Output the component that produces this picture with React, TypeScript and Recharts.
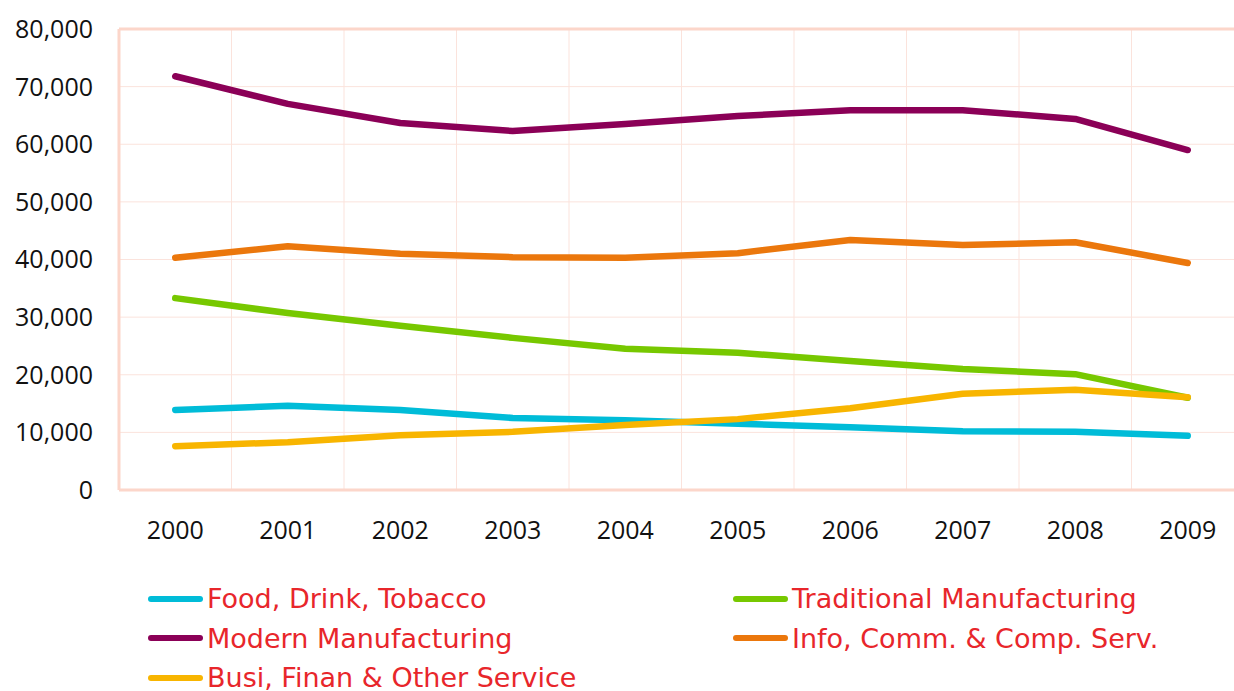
import React from "react";
import { LineChart, Line, XAxis, YAxis, CartesianGrid, Legend, ReferenceLine } from "recharts";

const years = ["2000", "2001", "2002", "2003", "2004", "2005", "2006", "2007", "2008", "2009"];
const food = [13900, 14600, 13900, 12500, 12100, 11500, 10900, 10200, 10100, 9400];
const traditional = [33300, 30700, 28500, 26400, 24500, 23800, 22400, 21000, 20100, 16000];
const modern = [71800, 67000, 63700, 62300, 63500, 64900, 65900, 65900, 64400, 59000];
const info = [40300, 42300, 41000, 40400, 40300, 41100, 43400, 42500, 43000, 39400];
const busi = [7600, 8300, 9500, 10100, 11300, 12300, 14200, 16700, 17400, 16100];
const yTicks = [0, 10000, 20000, 30000, 40000, 50000, 60000, 70000, 80000];

const series = [
  { key: "food", name: "Food, Drink, Tobacco", color: "#00BCD8", values: food },
  { key: "traditional", name: "Traditional Manufacturing", color: "#77C800", values: traditional },
  { key: "modern", name: "Modern Manufacturing", color: "#8B0057", values: modern },
  { key: "info", name: "Info, Comm. & Comp. Serv.", color: "#EB770C", values: info },
  { key: "busi", name: "Busi, Finan & Other Service", color: "#F8B500", values: busi },
];

const data = years.map((y, i) => {
  const row: Record<string, string | number> = { year: y };
  series.forEach((s) => (row[s.key] = s.values[i]));
  return row;
});

const AXIS = "#FCD6CA";
const GRID = "#FBE3DC";

const LegendContent = () => (
  <div
    style={{
      display: "grid",
      gridTemplateColumns: "585px 500px",
      paddingLeft: 148,
      fontFamily: "'DejaVu Sans', sans-serif",
      fontSize: 27,
      color: "#E8262B",
    }}
  >
    {series.map((s) => (
      <div key={s.key} style={{ display: "flex", alignItems: "center", height: 39.5, whiteSpace: "nowrap" }}>
        <div style={{ width: 55, height: 6, borderRadius: 3, background: s.color, marginRight: 4 }} />
        <span>{s.name}</span>
      </div>
    ))}
  </div>
);

export default function App() {
  return (
    <div style={{ position: "absolute", left: 0, top: 0, width: 1234, height: 691, overflow: "hidden", background: "#fff" }}>
      <LineChart width={1260} height={691} data={data} margin={{ top: 29, right: 16, left: 0, bottom: 0 }}>
        <CartesianGrid
          stroke={GRID}
          strokeWidth={1}
          verticalCoordinatesGenerator={({ offset }: any) =>
            years.slice(1).map((_, i) => offset.left + (offset.width * (i + 1)) / years.length)
          }
        />
        <XAxis
          dataKey="year"
          scale="band"
          height={201}
          axisLine={{ stroke: AXIS, strokeWidth: 3 }}
          tickLine={false}
          tickSize={0}
          tickMargin={31}
          tick={{ fill: "#111", fontSize: 25, fontFamily: "'Open Sans', sans-serif" }}
        />
        <YAxis
          width={119}
          domain={[0, 80000]}
          ticks={yTicks}
          interval={0}
          axisLine={{ stroke: AXIS, strokeWidth: 3 }}
          tickLine={false}
          tickSize={0}
          tickMargin={26}
          tickFormatter={(v: number) => v.toLocaleString("en-US")}
          tick={{ fill: "#111", fontSize: 25, fontFamily: "'Open Sans', sans-serif" }}
        />
        <ReferenceLine y={80000} stroke={AXIS} strokeWidth={3} />
        {series.map((s) => (
          <Line
            key={s.key}
            dataKey={s.key}
            name={s.name}
            stroke={s.color}
            strokeWidth={6.5}
            strokeLinecap="round"
            strokeLinejoin="round"
            dot={false}
            activeDot={false}
            type="linear"
            isAnimationActive={false}
          />
        ))}
        <Legend
          layout="horizontal"
          verticalAlign="middle"
          align="center"
          wrapperStyle={{ top: 579, left: 0, width: 1234, height: 112 }}
          content={<LegendContent />}
        />
      </LineChart>
    </div>
  );
}
